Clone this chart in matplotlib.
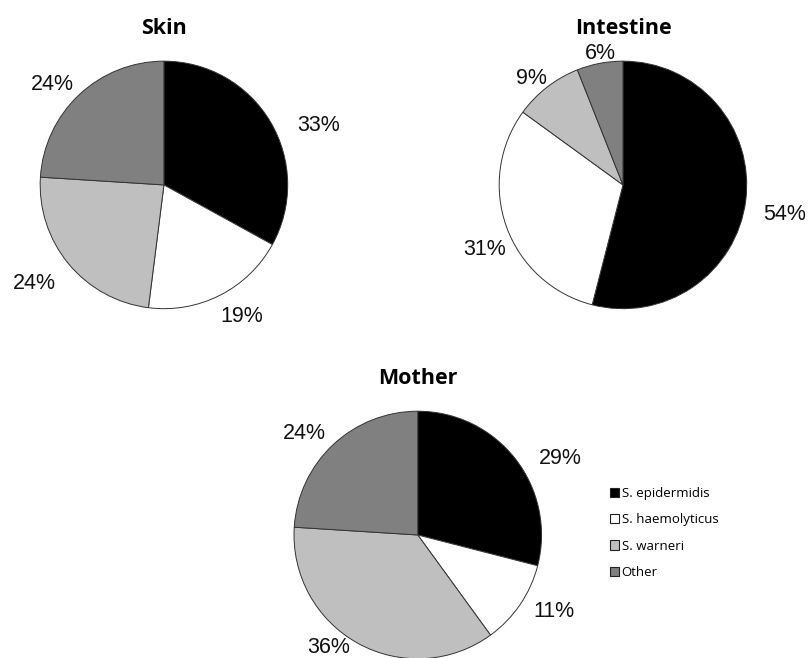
import matplotlib.pyplot as plt
from matplotlib.patches import Patch

# species share per sampling site (percent)
species = ["S. epidermidis", "S. haemolyticus", "S. warneri", "Other"]
skin = [33, 19, 24, 24]
intestine = [54, 31, 9, 6]
mother = [29, 11, 36, 24]

colors = ["#000000", "#ffffff", "#bfbfbf", "#808080"]

# where each percent label sits, in pie radius units from the centre
skin_lbl = [(1.25, 0.48), (0.63, -1.06), (-1.05, -0.80), (-0.90, 0.81)]
intestine_lbl = [(1.31, -0.24), (-1.12, -0.52), (-0.74, 0.86), (-0.18, 1.06)]
mother_lbl = [(1.15, 0.62), (1.10, -0.62), (-0.72, -0.91), (-0.92, 0.82)]

fig = plt.figure(figsize=(8.11, 6.58), dpi=100)

W = 250 / 811
H = 250 / 658
panels = [
    ("Skin", skin, skin_lbl, [0.048, 0.529], (164, 28)),
    ("Intestine", intestine, intestine_lbl, [0.614, 0.529], (623, 28)),
    ("Mother", mother, mother_lbl, [0.361, -0.003], (418, 378)),
]

for title, vals, lbl, pos, tpos in panels:
    ax = fig.add_axes([pos[0], pos[1], W, H])
    wedges, texts, autotexts = ax.pie(
        vals, colors=colors, startangle=90, counterclock=False,
        autopct='%d%%', radius=1,
        wedgeprops=dict(edgecolor='#333333', linewidth=0.7),
        textprops=dict(fontsize=15.5, family='Liberation Sans', color='#111111'))
    for t, xy in zip(autotexts, lbl):
        t.set_position(xy)
        t.set_ha('center')
        t.set_va('center')
    ax.set_xlim(-1.01, 1.01)
    ax.set_ylim(-1.01, 1.01)
    ax.set_aspect('equal')
    ax.axis('off')
    fig.text(tpos[0] / 811, 1 - tpos[1] / 658, title, ha='center', va='center',
             fontsize=15.5, fontweight='bold', family='Open Sans')

handles = [Patch(facecolor=c, edgecolor='#222222', linewidth=0.8) for c in colors]
fig.legend(handles, species, loc='center left', bbox_to_anchor=(598 / 811, 1 - 533 / 658),
           frameon=False, prop=dict(family='Open Sans', size=9.5),
           handlelength=0.7, handleheight=0.7, handletextpad=0.2, labelspacing=1.0)

fig.savefig("out.png", dpi=100)
